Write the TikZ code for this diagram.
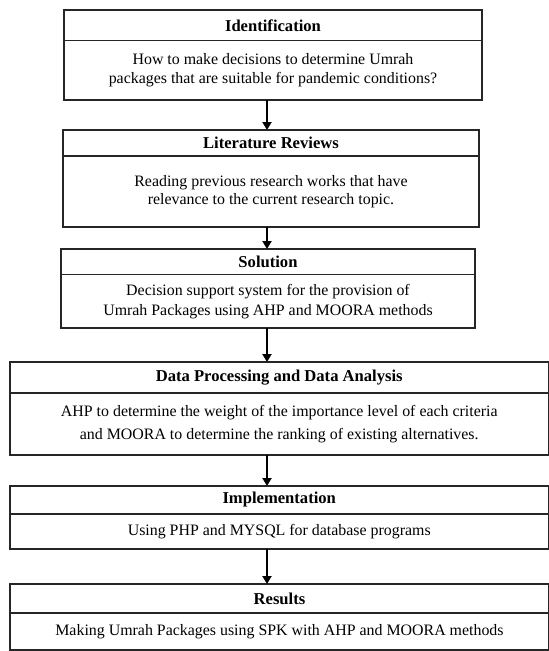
\documentclass[tikz,border=0pt]{standalone}
\usepackage{fontspec}
\setmainfont{Liberation Serif}
\usetikzlibrary{arrows.meta,positioning}

\begin{document}
\begin{tikzpicture}[x=1pt,y=-1pt,>=Stealth,
 headbox/.style={draw=black!85,line width=1.1pt,outer sep=0pt,inner sep=2pt,font=\fontsize{16.6}{19}\selectfont\bfseries},
 textbox/.style={draw=black!85,line width=1.1pt,outer sep=0pt,inner sep=2pt,align=center,font=\fontsize{15.9}{19}\selectfont},
 flow/.style={line width=2.4pt,-{Triangle[width=9pt,length=8pt]}}]
\useasboundingbox (0,0) rectangle (549,651);
\coordinate (axis) at (267,0);
\node[headbox,minimum width=418,minimum height=30.7] (idhead) at (273,25.35) {Identification};
\node[textbox,below=0pt of idhead,minimum width=418,minimum height=59.3] (idtext) {How to make decisions to determine Umrah\\
 packages that are suitable for pandemic conditions?};
\node[headbox,minimum width=416,minimum height=26] (lithead) at (271,143) {Literature Reviews};
\node[textbox,below=0pt of lithead,minimum width=416,minimum height=71,font=\fontsize{15.9}{18.3}\selectfont] (littext) {Reading previous research works that have\\
 relevance to the current research topic.};
\node[headbox,minimum width=414,minimum height=25.7] (solhead) at (268,261.85) {Solution};
\node[textbox,below=0pt of solhead,minimum width=414,minimum height=53.3,font=\fontsize{15.9}{20.3}\selectfont] (soltext) {Decision support system for the provision of\\
 Umrah Packages using AHP and MOORA methods};
\node[headbox,minimum width=538.5,minimum height=31] (datahead) at (279.25,377.5) {Data Processing and Data Analysis};
\node[textbox,below=0pt of datahead,minimum width=538.5,minimum height=62,font=\fontsize{15.9}{22.7}\selectfont] (datatext) {AHP to determine the weight of the importance level of each criteria\\
 and MOORA to determine the ranking of existing alternatives.};
\node[headbox,minimum width=538.5,minimum height=28] (imphead) at (279.25,500) {Implementation};
\node[textbox,below=0pt of imphead,minimum width=538.5,minimum height=35] (imptext) {Using PHP and MYSQL for database programs};
\node[headbox,minimum width=539,minimum height=29] (reshead) at (279.5,598.5) {Results};
\node[textbox,below=0pt of reshead,minimum width=539,minimum height=37] (restext) {Making Umrah Packages using SPK with AHP and MOORA methods};
\draw[flow] (idtext.south -| axis) -- (lithead.north -| axis);
\draw[flow] (littext.south -| axis) -- (solhead.north -| axis);
\draw[flow] (soltext.south -| axis) -- (datahead.north -| axis);
\draw[flow] (datatext.south -| axis) -- (imphead.north -| axis);
\draw[flow] (imptext.south -| axis) -- (reshead.north -| axis);
\end{tikzpicture}
\end{document}
